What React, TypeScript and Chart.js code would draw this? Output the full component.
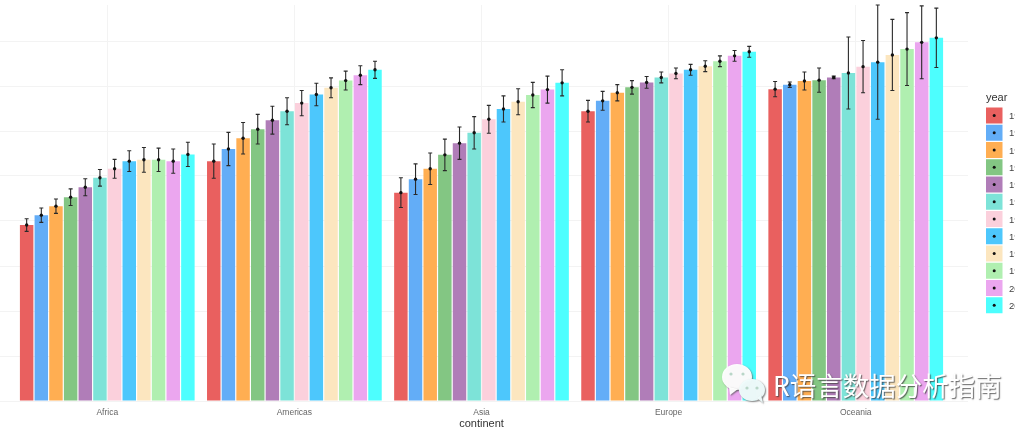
import React, { useEffect, useRef } from "react";
import { Chart, registerables } from "chart.js";

Chart.register(...registerables);

const continents = ["Africa", "Americas", "Asia", "Europe", "Oceania"];
const years = ["1952", "1957", "1962", "1967", "1972", "1977", "1982", "1987", "1992", "1997", "2002", "2007"];
const colors = ["#E9605F", "#63ADF7", "#FFAE52", "#83C683", "#B07DB8", "#7DE3D8", "#FBD0DC", "#4DC7FC", "#FCE6BF", "#B0EFB0", "#EBA6EF", "#4DFEFE"];

const meanAfrica = [39.1, 41.3, 43.3, 45.3, 47.5, 49.6, 51.6, 53.3, 53.6, 53.6, 53.3, 54.8];
const meanAmericas = [53.3, 56.0, 58.4, 60.4, 62.4, 64.4, 66.2, 68.1, 69.6, 71.2, 72.4, 73.6];
const meanAsia = [46.3, 49.3, 51.6, 54.7, 57.3, 59.6, 62.6, 64.9, 66.5, 68.0, 69.2, 70.7];
const meanEurope = [64.4, 66.7, 68.5, 69.7, 70.8, 71.9, 72.8, 73.6, 74.4, 75.5, 76.7, 77.6];
const meanOceania = [69.3, 70.3, 71.1, 71.3, 71.9, 72.9, 74.3, 75.3, 76.9, 78.2, 79.7, 80.7];

const errAfrica = [1.4, 1.6, 1.6, 1.85, 1.9, 1.85, 2.1, 2.3, 2.75, 2.6, 2.7, 2.7];
const errAmericas = [3.8, 3.7, 3.5, 3.3, 3.1, 3.0, 2.8, 2.5, 2.2, 2.1, 2.1, 1.9];
const errAsia = [3.3, 3.4, 3.5, 3.5, 3.6, 3.6, 3.1, 2.9, 2.9, 2.8, 3.0, 2.9];
const errEurope = [2.4, 2.1, 1.8, 1.5, 1.3, 1.2, 1.2, 1.2, 1.2, 1.2, 1.2, 1.2];
const errOceania = [1.7, 0.6, 2.0, 2.7, 0.3, 8.0, 5.8, 12.7, 7.9, 8.1, 8.1, 6.6];

const means = [meanAfrica, meanAmericas, meanAsia, meanEurope, meanOceania];
const errs = [errAfrica, errAmericas, errAsia, errEurope, errOceania];
const yTicks = [0, 10, 20, 30, 40, 50, 60, 70, 80];
const watermark = "R语言数据分析指南";

const OFFSET = 10; // the canvas starts this many px left of the page

const errorBars = {
  id: "errorBars",
  afterDatasetsDraw(chart: any) {
    const { ctx } = chart;
    const y = chart.scales.y;
    years.forEach((_, yi) => {
      const meta = chart.getDatasetMeta(yi);
      meta.data.forEach((bar: any, ci: number) => {
        const m = means[ci][yi];
        const e = errs[ci][yi];
        const top = y.getPixelForValue(m + e);
        const bot = y.getPixelForValue(m - e);
        const px = bar.x;
        ctx.save();
        ctx.strokeStyle = "#2a2a2a";
        ctx.lineWidth = 1.1;
        ctx.beginPath();
        ctx.moveTo(px, top);
        ctx.lineTo(px, bot);
        ctx.moveTo(px - 2, top);
        ctx.lineTo(px + 2, top);
        ctx.moveTo(px - 2, bot);
        ctx.lineTo(px + 2, bot);
        ctx.stroke();
        ctx.fillStyle = "#111";
        ctx.beginPath();
        ctx.arc(px, y.getPixelForValue(m), 1.7, 0, Math.PI * 2);
        ctx.fill();
        ctx.restore();
      });
    });
  },
};

const sideLegend = {
  id: "sideLegend",
  afterDraw(chart: any) {
    const { ctx } = chart;
    ctx.save();
    ctx.textBaseline = "alphabetic";
    ctx.fillStyle = "#333";
    ctx.font = '11px "Liberation Sans", Arial, sans-serif';
    ctx.fillText("year", 986 + OFFSET, 101);
    years.forEach((yr, i) => {
      const top = 107.5 + i * 17.25;
      ctx.fillStyle = colors[i];
      ctx.fillRect(986 + OFFSET, top, 16.5, 16);
      ctx.fillStyle = "#111";
      ctx.beginPath();
      ctx.arc(994.2 + OFFSET, top + 8, 1.5, 0, Math.PI * 2);
      ctx.fill();
      ctx.fillStyle = "#444";
      ctx.font = '9.5px "Liberation Sans", Arial, sans-serif';
      ctx.fillText(yr, 1009 + OFFSET, top + 11.5);
    });
    ctx.restore();
  },
};

const watermarkPlugin = {
  id: "watermarkPlugin",
  afterDraw(chart: any) {
    const { ctx } = chart;
    const o = OFFSET;
    ctx.save();
    ctx.shadowColor = "rgba(90,90,90,0.75)";
    ctx.shadowBlur = 1.5;
    ctx.shadowOffsetX = 1;
    ctx.shadowOffsetY = 1;
    ctx.fillStyle = "rgba(255,255,255,0.96)";
    // large speech bubble
    ctx.beginPath();
    ctx.ellipse(737 + o, 377, 15, 13, 0, 0, Math.PI * 2);
    ctx.fill();
    ctx.beginPath();
    ctx.moveTo(729 + o, 387);
    ctx.lineTo(730 + o, 395);
    ctx.lineTo(738 + o, 389);
    ctx.fill();
    // small speech bubble
    ctx.fillStyle = "rgba(240,252,252,0.97)";
    ctx.beginPath();
    ctx.ellipse(752 + o, 390, 13, 11, 0, 0, Math.PI * 2);
    ctx.fill();
    ctx.beginPath();
    ctx.moveTo(757 + o, 398);
    ctx.lineTo(763 + o, 403);
    ctx.lineTo(761 + o, 395);
    ctx.fill();
    ctx.shadowColor = "transparent";
    ctx.fillStyle = "#b9d6c8";
    [[731, 374], [743, 374], [747, 388], [757, 388]].forEach(([x, y]) => {
      ctx.beginPath();
      ctx.arc(x + o, y, 1.6, 0, Math.PI * 2);
      ctx.fill();
    });
    ctx.shadowColor = "rgba(60,60,60,0.8)";
    ctx.shadowBlur = 1.2;
    ctx.fillStyle = "#ffffff";
    ctx.textBaseline = "alphabetic";
    ctx.font = '26.5px "Noto Sans CJK SC", sans-serif';
    ctx.fillText(watermark, 773 + o, 396);
    ctx.restore();
  },
};

export default function App() {
  const ref = useRef<HTMLCanvasElement | null>(null);
  useEffect(() => {
    const chart = new Chart(ref.current as HTMLCanvasElement, {
      type: "bar",
      data: {
        datasets: years.map((yr, yi) => ({
          label: yr,
          data: continents.map((_, ci) => ({ x: ci + 1, y: means[ci][yi] })),
          backgroundColor: colors[yi],
          borderWidth: 0,
          categoryPercentage: 0.94,
          barPercentage: 0.92,
        })),
      },
      options: {
        animation: false,
        responsive: false,
        devicePixelRatio: 1,
        layout: { padding: { left: 5, right: 47, top: 5, bottom: 0 } },
        plugins: { legend: { display: false }, tooltip: { enabled: false } },
        scales: {
          x: {
            type: "linear",
            offset: false,
            min: 0.4,
            max: 5.6,
            afterBuildTicks: (s: any) => {
              s.ticks = continents.map((_, i) => ({ value: i + 1 }));
            },
            afterFit: (s: any) => {
              s.height = 33;
            },
            ticks: {
              autoSkip: false,
              maxRotation: 0,
              padding: 7,
              color: "#666",
              font: { size: 8.5, family: '"Liberation Sans", Arial, sans-serif' },
              callback: (v: any) => continents[Number(v) - 1] ?? "",
            },
            grid: { offset: false, color: "#f3f3f3", lineWidth: 1, drawTicks: false },
            border: { display: false },
            title: {
              display: true,
              text: "continent",
              color: "#333",
              font: { size: 11, family: '"Liberation Sans", Arial, sans-serif' },
              padding: { top: 0, bottom: 3 },
            },
          },
          y: {
            min: 0,
            max: 88,
            afterBuildTicks: (s: any) => {
              s.ticks = yTicks.map((value) => ({ value }));
            },
            afterFit: (s: any) => {
              s.width = 0;
            },
            ticks: { display: false },
            grid: { color: "#f3f3f3", lineWidth: 1, drawTicks: false },
            border: { display: false },
          },
        },
      },
      plugins: [errorBars, sideLegend, watermarkPlugin],
    } as any);
    return () => chart.destroy();
  }, []);
  return (
    <div style={{ position: "fixed", left: -OFFSET, top: 0, width: 1015 + OFFSET, height: 434, background: "#fff" }}>
      <canvas ref={ref} width={1015 + OFFSET} height={434} style={{ display: "block" }} />
    </div>
  );
}
